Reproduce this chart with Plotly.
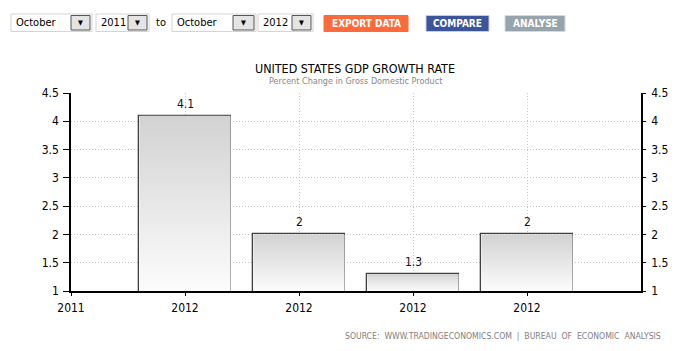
import plotly.graph_objects as go

# ---- data ----
tick_labels = ["2011", "2012", "2012", "2012", "2012"]
bar_positions = [1, 2, 3, 4]
gdp_growth = [4.1, 2.0, 1.3, 2.0]
y_ticks = [1, 1.5, 2, 2.5, 3, 3.5, 4, 4.5]
y_tick_text = ["1", "1.5", "2", "2.5", "3", "3.5", "4", "4.5"]

W, H = 687, 351
L, R, T, B = 71, 46, 93, 60
PW, PH = W - L - R, H - T - B

def pxx(p):
    return (p - L) / PW

def pxy(p):
    return (H - B - p) / PH

FONT = "DejaVu Sans Condensed"
BAR_W = 0.8
Y_MIN, Y_MAX = 1, 4.5
GRID_DASH = "1px,2px"

fig = go.Figure()

# gradient fills of bars
for xc, v in zip(bar_positions, gdp_growth):
    fig.add_trace(go.Scatter(
        x=[xc - BAR_W / 2, xc - BAR_W / 2, xc + BAR_W / 2, xc + BAR_W / 2, xc - BAR_W / 2],
        y=[0, v, v, 0, 0],
        mode="lines", fill="toself",
        line=dict(width=0, color="rgba(0,0,0,0)"),
        fillgradient=dict(type="vertical", start=Y_MIN, stop=v,
                          colorscale=[[0, "#fcfcfc"], [1, "#d2d2d2"]]),
        hoverinfo="skip", showlegend=False,
    ))

# bar outlines
fig.add_trace(go.Bar(
    x=bar_positions, y=gdp_growth, width=BAR_W,
    marker=dict(color="rgba(0,0,0,0)", line=dict(color="#404040", width=1.3)),
    showlegend=False, hoverinfo="skip",
))

# invisible trace for right axis
fig.add_trace(go.Scatter(x=[0], y=[Y_MIN], yaxis="y2", mode="markers",
                         marker=dict(opacity=0), showlegend=False, hoverinfo="skip"))

annotations = []
for xc, v in zip(bar_positions, gdp_growth):
    annotations.append(dict(x=xc, y=v, text=f"{v:g}", showarrow=False,
                            yanchor="bottom", yshift=3,
                            font=dict(family=FONT, size=12, color="#111")))

# title / subtitle / source
annotations += [
    dict(x=pxx(355), y=pxy(68), xref="paper", yref="paper", text="UNITED STATES GDP GROWTH RATE",
         showarrow=False, xanchor="center", yanchor="middle",
         font=dict(family=FONT, size=12.4, color="#000")),
    dict(x=pxx(355.5), y=pxy(81.5), xref="paper", yref="paper",
         text="Percent Change in Gross Domestic Product",
         showarrow=False, xanchor="center", yanchor="middle",
         font=dict(family=FONT, size=9, color="#888")),
    dict(x=pxx(663), y=pxy(335.5), xref="paper", yref="paper",
         text="SOURCE:\u00a0 WWW.TRADINGECONOMICS.COM\u00a0 |\u00a0 BUREAU\u00a0 OF\u00a0 ECONOMIC\u00a0 ANALYSIS",
         showarrow=False, xanchor="right", yanchor="middle",
         font=dict(family=FONT, size=8.6, color="#808080")),
]

shapes = []

def box(x0, y0, x1, y1, fill, line, lw=1):
    shapes.append(dict(type="rect", xref="paper", yref="paper",
                       x0=pxx(x0), x1=pxx(x1), y0=pxy(y0), y1=pxy(y1),
                       fillcolor=fill, line=dict(color=line, width=lw), layer="above"))

def text(x, y, s, size=11, color="#000", anchor="left", bold=False, family=FONT):
    annotations.append(dict(x=pxx(x), y=pxy(y), xref="paper", yref="paper",
                            text=f"<b>{s}</b>" if bold else s, showarrow=False,
                            xanchor=anchor, yanchor="middle",
                            font=dict(family=family, size=size, color=color)))

# dropdowns
dropdowns = [("October", 11, 92, 71), ("2011", 96, 149, 128),
             ("October", 172, 256, 233), ("2012", 258, 313, 292)]
for label, x0, x1, ax0 in dropdowns:
    box(x0, 14, x1, 31.5, "#ffffff", "#d4d4d4")
    box(ax0, 15.5, x1 - 2, 30, "#e4e4e4", "#555555")
    text(x0 + 3, 23, label, size=11)
    text((ax0 + x1 - 2) / 2, 22.5, "\u25bc", size=7, anchor="center")
text(160.5, 23, "to", size=11, anchor="center")

# buttons
buttons = [("EXPORT DATA", 324, 408, "#ff6a3a", "#ff6a3a"),
           ("COMPARE", 426, 489, "#3c5499", "#c8cde0"),
           ("ANALYSE", 505, 565, "#96a4ac", "#d4dadd")]
for label, x0, x1, fill, border in buttons:
    box(x0, 15.5, x1, 31.5, fill, border)
    text((x0 + x1) / 2, 23.5, label, size=10, color="#ffffff", anchor="center", bold=True)

fig.update_layout(
    width=W, height=H,
    margin=dict(l=L, r=R, t=T, b=B, pad=0),
    paper_bgcolor="#ffffff", plot_bgcolor="#ffffff",
    showlegend=False,
    bargap=0,
    xaxis=dict(range=[0, 5], tickmode="array", tickvals=list(range(len(tick_labels))),
               ticktext=tick_labels, showline=True, linecolor="#000", linewidth=1.5,
               ticks="outside", ticklen=3, tickcolor="#000", tickwidth=1.3,
               showgrid=True, gridcolor="#c4c4c4", griddash=GRID_DASH, gridwidth=1,
               zeroline=False, ticklabelstandoff=2,
               tickfont=dict(family=FONT, size=12, color="#000"), fixedrange=True),
    yaxis=dict(range=[Y_MIN, Y_MAX], tickmode="array", tickvals=y_ticks, ticktext=y_tick_text,
               showline=True, linecolor="#000", linewidth=1.5,
               ticks="outside", ticklen=6, tickcolor="#000", tickwidth=1.3,
               showgrid=True, gridcolor="#c4c4c4", griddash=GRID_DASH, gridwidth=1,
               zeroline=False, ticklabelstandoff=2,
               tickfont=dict(family=FONT, size=12, color="#000"), fixedrange=True),
    yaxis2=dict(range=[Y_MIN, Y_MAX], overlaying="y", side="right", tickmode="array",
                tickvals=y_ticks, ticktext=y_tick_text,
                showline=True, linecolor="#000", linewidth=1.5,
                ticks="outside", ticklen=3, tickcolor="#000", tickwidth=1.3,
                showgrid=False, zeroline=False, ticklabelstandoff=3,
                tickfont=dict(family=FONT, size=12, color="#000"), fixedrange=True),
    annotations=annotations,
    shapes=shapes,
)

fig.write_html("out.html")
